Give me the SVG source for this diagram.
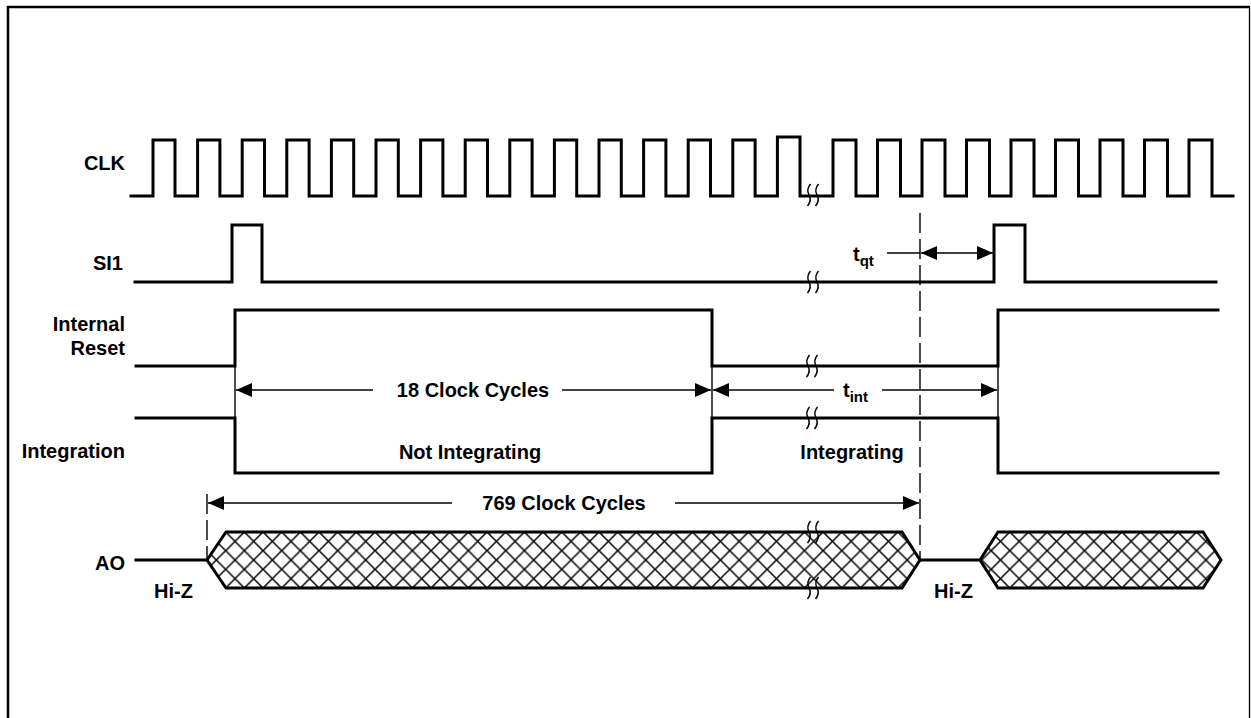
<svg xmlns="http://www.w3.org/2000/svg" width="1251" height="718" viewBox="0 0 1251 718">
<style>
.sig{fill:none;stroke:#000;stroke-width:3;stroke-linejoin:miter;stroke-linecap:square}
.thin{fill:none;stroke:#000;stroke-width:1.4}
.dash{fill:none;stroke:#000;stroke-width:1.4;stroke-dasharray:20 6}
.brk{fill:none;stroke:#000;stroke-width:1.5}
.lbl{font-family:"Liberation Sans",Arial,Helvetica,sans-serif;font-weight:bold;font-size:20px;fill:#000}
.end{text-anchor:end}
.mid{text-anchor:middle}
.dim{fill:none;stroke:#000;stroke-width:1.4;marker-end:url(#arr)}
</style>
<defs>
<marker id="arr" viewBox="0 0 16 14" refX="16" refY="7" markerWidth="16" markerHeight="14" markerUnits="userSpaceOnUse" orient="auto">
<path d="M0,0 L16,7 L0,14 z" fill="#000"/>
</marker>
<pattern id="xh" patternUnits="userSpaceOnUse" x="207" y="532" width="18.67" height="18.67">
<path d="M0,0 L18.67,18.67 M0,18.67 L18.67,0" stroke="#000" stroke-width="1.5"/>
</pattern>
<path id="s" d="M1.5,-11 Q-3,-5.5 0,0 Q3,5.5 -1.5,11"/>
</defs>
<rect width="1251" height="718" fill="#fff"/>
<g id="frame">
<line x1="7" y1="7" x2="1250" y2="7" stroke="#000" stroke-width="2.5"/>
<line x1="8" y1="6" x2="8" y2="718" stroke="#000" stroke-width="2.5"/>
<line x1="1249.5" y1="7" x2="1249.5" y2="718" stroke="#000" stroke-width="1.3"/>
</g>
<g id="labels">
<text class="lbl end" x="125" y="170">CLK</text>
<text class="lbl end" x="123" y="270">SI1</text>
<text class="lbl end" x="125" y="331">Internal</text>
<text class="lbl end" x="125" y="355">Reset</text>
<text class="lbl end" x="125" y="458">Integration</text>
<text class="lbl end" x="125" y="570">AO</text>
</g>
<g id="clk">
<path class="sig" d="M131,196 H153 V140 H175 V196 H197.6 V140 H219.9 V196 H242.2 V140 H264.5 V196 H286.8 V140 H309.1 V196 H331.4 V140 H353.7 V196 H376 V140 H398.3 V196 H420.6 V140 H442.9 V196 H465.2 V140 H487.5 V196 H509.8 V140 H532.1 V196 H554.4 V140 H576.7 V196 H599 V140 H621.3 V196 H643.6 V140 H665.9 V196 H688.2 V140 H710.5 V196 H732.8 V140 H755.1 V196 H777.4 V137 H800 V196 H833 V140 H856 V196 H877.5 V140 H900.5 V196 H922 V140 H945 V196 H966.5 V140 H989.5 V196 H1011 V140 H1034 V196 H1055.5 V140 H1078.5 V196 H1100 V140 H1123 V196 H1144.5 V140 H1167.5 V196 H1189 V140 H1212 V196 H1233"/>
</g>
<g id="si1">
<path class="sig" d="M135,282 H232 V225 H262 V282 H994 V225 H1025 V282 H1216"/>
</g>
<g id="internal-reset">
<path class="sig" d="M136,366 H235 V310 H712 V366 H998 V310 H1218"/>
</g>
<g id="integration">
<path class="sig" d="M136,418 H235 V473 H712 V418 H998 V473 H1218"/>
</g>
<g id="ao">
<path class="sig" d="M136,560 H207"/>
<path class="sig" d="M920,560 H980"/>
<polygon points="207,560 226,532 902,532 920,560 902,588 226,588" fill="url(#xh)" stroke="#000" stroke-width="3" stroke-linejoin="miter"/>
<polygon points="980,560 998,532 1203,532 1221,560 1203,588 998,588" fill="url(#xh)" stroke="#000" stroke-width="3" stroke-linejoin="miter"/>
<text class="lbl" x="154" y="598">Hi-Z</text>
<text class="lbl" x="934" y="598">Hi-Z</text>
</g>
<g id="breaks" class="brk">
<use href="#s" x="809" y="195"/><use href="#s" x="817" y="195"/>
<use href="#s" x="809" y="282"/><use href="#s" x="817" y="282"/>
<use href="#s" x="808" y="366"/><use href="#s" x="816" y="366"/>
<use href="#s" x="808" y="418"/><use href="#s" x="816" y="418"/>
<use href="#s" x="809" y="532"/><use href="#s" x="817" y="532"/>
<use href="#s" x="809" y="588"/><use href="#s" x="817" y="588"/>
</g>
<g id="connectors">
<line class="dash" x1="920" y1="213" x2="920" y2="560"/>
<line class="dash" x1="207" y1="494" x2="207" y2="560"/>
<line class="thin" x1="235" y1="366" x2="235" y2="418"/>
<line class="thin" x1="712" y1="366" x2="712" y2="418"/>
<line class="thin" x1="998" y1="366" x2="998" y2="418"/>
<line class="dim" x1="373" y1="390" x2="236" y2="390"/>
<line class="dim" x1="562" y1="390" x2="711" y2="390"/>
<line class="dim" x1="834" y1="390" x2="713" y2="390"/>
<line class="dim" x1="882" y1="390" x2="997" y2="390"/>
<line class="thin" x1="887" y1="253" x2="920" y2="253"/>
<line class="dim" x1="957" y1="253" x2="921" y2="253"/>
<line class="dim" x1="957" y1="253" x2="993" y2="253"/>
<line class="dim" x1="452" y1="503" x2="208" y2="503"/>
<line class="dim" x1="675" y1="503" x2="919" y2="503"/>
</g>
<g id="annotations">
<text class="lbl mid" x="473" y="397">18 Clock Cycles</text>
<text class="lbl mid" x="470" y="459">Not Integrating</text>
<text class="lbl mid" x="852" y="459">Integrating</text>
<text class="lbl mid" x="564" y="510">769 Clock Cycles</text>
<text class="lbl" x="843" y="397">t<tspan font-size="15" dy="5">int</tspan></text>
<text class="lbl" x="853" y="261">t<tspan font-size="15" dy="5">qt</tspan></text>
</g>
</svg>
